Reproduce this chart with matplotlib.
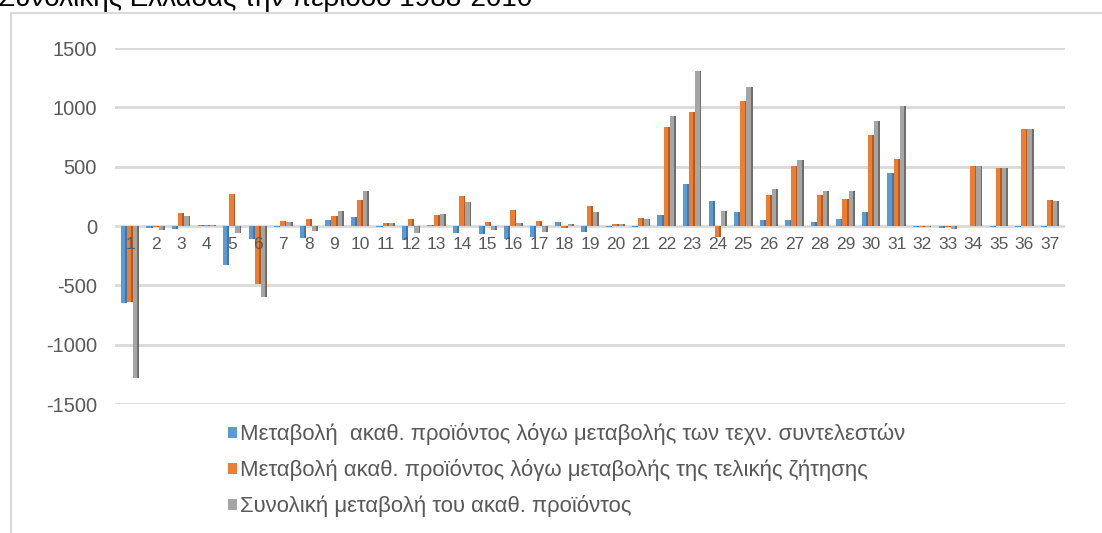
import numpy as np
import matplotlib
matplotlib.use('Agg')
import matplotlib.pyplot as plt
from matplotlib.patches import Rectangle

plt.rcParams['font.family'] = ['Liberation Sans', 'DejaVu Sans']
plt.rcParams['axes.unicode_minus'] = False

# τομείς 1..37
kladoi = [str(i) for i in range(1, 38)]

# μεταβολή λόγω τεχνικών συντελεστών
tech = [-650, -20, -28, 5, -329, -112, -10, -98, 48, 79, -8, -118, 8,
        -56, -70, -112, -93, 36, -51, -8, -10, 93, 351, 211, 118, 53,
        48, 34, 62, 121, 447, -5, -20, -3, -5, -8, -12]
# μεταβολή λόγω τελικής ζήτησης
zitisi = [-640, -12, 112, 5, 267, -492, 42, 56, 81, 216, 28, 56, 90,
          253, 34, 132, 42, -20, 169, 15, 65, 837, 958, -90, 1054, 261,
          508, 261, 228, 765, 568, -5, -8, 506, 486, 821, 216]
# συνολική μεταβολή
synolo = [-1280, -30, 88, 10, -62, -596, 34, -40, 126, 295, 22, -56, 98,
          200, -34, 28, -51, 20, 121, 20, 56, 927, 1307, 124, 1169, 309,
          556, 292, 292, 882, 1009, -5, -25, 506, 486, 821, 208]

yticks = [-1500, -1000, -500, 0, 500, 1000, 1500]

seires = [
    ('Μεταβολή  ακαθ. προϊόντος λόγω μεταβολής των τεχν. συντελεστών', tech, '#5B9BD5', '#3E78AE'),
    ('Μεταβολή ακαθ. προϊόντος λόγω μεταβολής της τελικής ζήτησης', zitisi, '#ED7D31', '#B85A1C'),
    ('Συνολική μεταβολή του ακαθ. προϊόντος', synolo, '#A5A5A5', '#6E6E6E'),
]

W, H = 1102, 533
fig = plt.figure(figsize=(W / 100, H / 100), dpi=100)
ax = fig.add_axes([115 / W, 1 - 404 / H, 950 / W, 356 / H])

# gridlines drawn by hand so the tick labels can sit on top of the bars
for yt in yticks:
    ax.axhline(yt, color='#D9D9D9', linewidth=2, zorder=0)

x = np.arange(1, len(kladoi) + 1)
w = 0.24
for i, (nome, vals, cor, sombra) in enumerate(seires):
    pos = x + (i - 1) * w
    ax.bar(pos, vals, width=w, color=cor, label=nome, zorder=2, linewidth=0)
    # fake 3D edge on the right side, like the Excel bevel
    ax.bar(pos + w / 2 - 0.035, vals, width=0.07, color=sombra, zorder=2, linewidth=0)

ax.set_axisbelow(False)  # category numbers drawn over the bars, as in Excel
ax.set_xlim(0.41, 37.59)
ax.set_ylim(-1500, 1500)
ax.set_yticks(yticks)
ax.set_xticks(x)
ax.set_xticklabels(kladoi)

for s in ['top', 'right', 'left']:
    ax.spines[s].set_visible(False)
ax.spines['bottom'].set_position(('data', 0))
ax.spines['bottom'].set_visible(False)
ax.tick_params(axis='x', length=0, pad=8, labelsize=12.5, colors='#595959')
ax.tick_params(axis='y', length=0, pad=13, labelsize=14.5, colors='#595959')

handles, labels = ax.get_legend_handles_labels()
fig.legend(handles, labels, loc='upper left', bbox_to_anchor=(228 / W, 1 - 423 / H),
           frameon=False, fontsize=15.9, labelcolor='#595959', ncol=1,
           handlelength=0.4, handleheight=0.4, handletextpad=0.15,
           labelspacing=0.64, borderpad=0, borderaxespad=0)

# chart frame
fig.patches.append(Rectangle((11 / W, -0.05), 1.2, 1 - 13 / H + 0.05,
                             transform=fig.transFigure, fill=False,
                             edgecolor='#D9D9D9', linewidth=1.5))

# title cut off by the top edge of the image
fig.text(-2 / W, 1 - 6 / H, 'Συνολικής Ελλάδας την περίοδο 1988-2010',
         fontsize=20, color='black', va='baseline', ha='left')

fig.savefig('out.png', dpi=100)
